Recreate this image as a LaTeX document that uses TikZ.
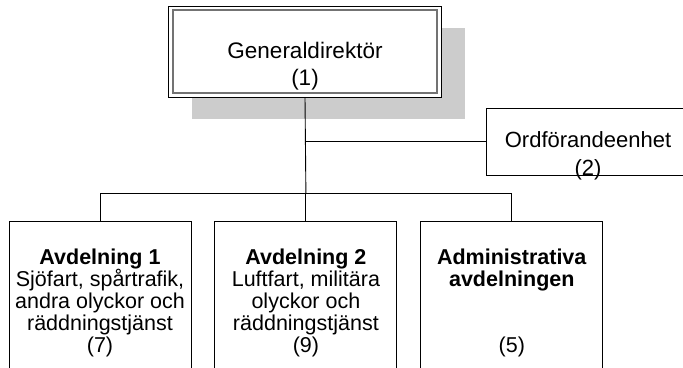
\documentclass[tikz,border=0pt]{standalone}
\usepackage{fontspec}
\setmainfont{Liberation Sans}
\usetikzlibrary{positioning,calc,shadows}

\begin{document}
\begin{tikzpicture}[
    x=1pt, y=-1pt,
    node distance=23pt,
    unit/.style={draw, line width=0.9pt, minimum width=182pt, minimum height=170pt, inner sep=0pt},
    lbl/.style={align=center, inner sep=0pt, font=\fontsize{21.5}{22}\selectfont},
    link/.style={line width=0.9pt}
]
\clip (0,0) rectangle (683,367);
\node[draw, fill=white, line width=0.9pt, minimum width=273pt, minimum height=91pt, inner sep=0pt,
      drop shadow={shadow xshift=23pt, shadow yshift=-22pt, fill=black!20, opacity=1}] (gd) at (305,51.5) {};
\draw[line width=1.2pt, black!55] ($(gd.north west)+(5,4.5)$) rectangle ($(gd.south east)+(-5,-4.5)$);
\node[lbl, font=\fontsize{22.5}{27}\selectfont] (gd-t) at (305,66) {Generaldirektör\\(1)};
\node[draw, line width=0.9pt, minimum width=204pt, minimum height=67pt, inner sep=0pt] (ord) at (588,141.5) {};
\node[lbl, font=\fontsize{22}{28}\selectfont] (ord-t) at (588,156) {Ordförandeenhet\\(2)};
\node[unit, anchor=north] (b1) at (100,221) {};
\node[unit, right=of b1] (b2) {};
\node[unit, right=of b2] (b3) {};
\node[lbl] (b1-t) at ($(b1.north)+(0,82)$) {\textbf{Avdelning 1}\\Sjöfart, spårtrafik,\\andra olyckor och\\räddningstjänst\\(7)};
\node[lbl] (b2-t) at ($(b2.north)+(0,82)$) {\textbf{Avdelning 2}\\Luftfart, militära\\olyckor och\\räddningstjänst\\(9)};
\node[lbl] (b3-t) at ($(b3.north)+(0,82)$) {\textbf{Administrativa}\\\textbf{avdelningen}\\[44pt](5)};
\coordinate (bus) at ($(b2.north)+(0,-28)$);
\coordinate (tap) at (gd.south |- ord.west);
\draw[link] (gd.south) -- (bus);
\draw[link] (tap) -- (ord.west);
\draw[link] (b1.north) -- (b1.north |- bus) -- (b3.north |- bus) -- (b3.north);
\draw[link] (b2.north) -- (bus);
\end{tikzpicture}
\end{document}
